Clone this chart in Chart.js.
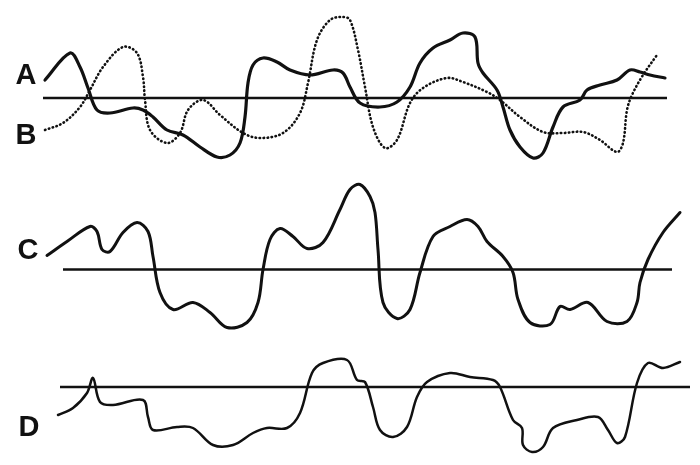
<!DOCTYPE html>
<html>
<head>
<meta charset="utf-8">
<script src="https://cdn.jsdelivr.net/npm/chart.js@4"></script>
<style>
  html, body { margin: 0; padding: 0; background: #fff; }
  .wrap { width: 700px; height: 465px; position: relative; }
</style>
</head>
<body>
<div class="wrap"><canvas id="waves"></canvas></div>
<script>
// --- Data: x positions along the time axis, y = deviation from each trace's zero line ---
const timeA = [45,70,80,88,97,110,133,143,153,167,183,200,217,230,240,245,248,253,263,277,290,310,333,343,350,360,380,397,410,420,433,450,463,475,478,483,497,503,510,520,533,543,553,563,580,587,600,617,630,640,650,665];
const traceA = [18,45,31,10,-12,-15,-10,-12,-19,-32,-37,-49,-59,-57,-45,-19,15,33,40,36,28,23,28,25,11,-5,-9,-4,11,35,50,58,65,61,35,25,8,-9,-32,-49,-60,-55,-29,-9,-2,8,13,18,28,26,23,20];

const timeB = [45,63,80,90,103,123,137,143,145,150,167,180,188,203,220,243,260,283,300,308,317,330,343,350,358,365,373,385,397,410,423,447,463,487,500,520,543,563,583,600,617,623,627,632,643,657];
const traceB = [-32,-25,-9,8,31,51,45,21,-2,-32,-45,-35,-12,-2,-17,-35,-40,-35,-15,15,58,78,81,78,48,11,-29,-50,-42,-5,10,20,16,6,-2,-19,-34,-35,-34,-42,-54,-45,-12,3,23,43];

const timeC = [47,67,90,97,102,110,123,137,148,153,160,173,193,210,227,247,258,263,270,280,293,307,323,340,350,360,370,375,378,383,397,410,420,433,450,467,478,487,503,513,518,530,550,560,570,588,607,627,637,640,648,663,680];
const traceC = [14,28,43,38,20,18,37,47,38,13,-23,-40,-33,-43,-58,-53,-33,0,30,41,33,21,27,60,80,85,73,57,20,-33,-49,-40,-3,33,43,50,43,28,13,-3,-30,-53,-55,-37,-40,-33,-52,-52,-33,-13,10,37,57];

const timeD = [58,73,87,93,100,113,143,148,153,177,193,213,233,253,267,287,300,312,323,347,357,365,373,380,393,407,417,427,450,470,493,500,513,522,523,532,543,553,577,598,608,617,625,637,648,663,680];
const traceD = [-28,-21,-6,9,-15,-18,-13,-30,-43,-40,-41,-58,-58,-46,-41,-41,-26,14,24,27,7,5,-20,-43,-50,-40,-10,5,14,10,7,0,-33,-41,-58,-65,-60,-41,-33,-30,-43,-56,-50,4,24,19,25];

// zero lines (start / end of each axis)
const axisAB = [43, 667];
const axisC = [63, 672];
const axisD = [60, 690];

const traceLabels = ['A', 'B', 'C', 'D'];

// --- Layout: where each panel's zero line sits ---
const panelBase = { AB: -98, C: -269.5, D: -387 };

function toPoints(xs, ys, base) {
    return xs.map((x, i) => ({ x: x, y: base + ys[i] }));
}
function zeroLine(xs, base) {
    return xs.map(x => ({ x: x, y: base }));
}

const ink = '#111';

// labels beside the traces
const labelPlugin = {
    id: 'traceLabels',
    afterDatasetsDraw(chart) {
        const { ctx, scales } = chart;
        const spots = [
            [traceLabels[0], 26, panelBase.AB + 22],
            [traceLabels[1], 26, panelBase.AB - 38],
            [traceLabels[2], 28, panelBase.C + 19],
            [traceLabels[3], 29, panelBase.D - 41]
        ];
        ctx.save();
        ctx.fillStyle = ink;
        ctx.font = 'bold 29px "Liberation Sans Narrow", "Liberation Sans", Arial, sans-serif';
        ctx.textAlign = 'center';
        ctx.textBaseline = 'middle';
        spots.forEach(s => {
            ctx.fillText(s[0], scales.x.getPixelForValue(s[1]), scales.y.getPixelForValue(s[2]));
        });
        ctx.restore();
    }
};

const solid = (data, width) => ({
    data: data, borderColor: ink, borderWidth: width, pointRadius: 0,
    tension: 0.35, fill: false,
    borderCapStyle: 'round', borderJoinStyle: 'round'
});
const straight = data => ({
    data: data, borderColor: ink, borderWidth: 2.5, pointRadius: 0, tension: 0, fill: false
});

new Chart(document.getElementById('waves'), {
    type: 'line',
    data: {
        datasets: [
            straight(zeroLine(axisAB, panelBase.AB)),
            straight(zeroLine(axisC, panelBase.C)),
            straight(zeroLine(axisD, panelBase.D)),
            Object.assign(solid(toPoints(timeB, traceB, panelBase.AB), 2.6), { borderDash: [0.5, 3.5] }),
            solid(toPoints(timeA, traceA, panelBase.AB), 3.2),
            solid(toPoints(timeC, traceC, panelBase.C), 3),
            solid(toPoints(timeD, traceD, panelBase.D), 2.5)
        ]
    },
    options: {
        responsive: true,
        maintainAspectRatio: false,
        animation: false,
        layout: { padding: 0 },
        plugins: { legend: { display: false }, tooltip: { enabled: false } },
        scales: {
            x: { type: 'linear', min: 0, max: 700, display: false },
            y: { type: 'linear', min: -465, max: 0, display: false }
        }
    },
    plugins: [labelPlugin]
});
</script>
</body>
</html>
